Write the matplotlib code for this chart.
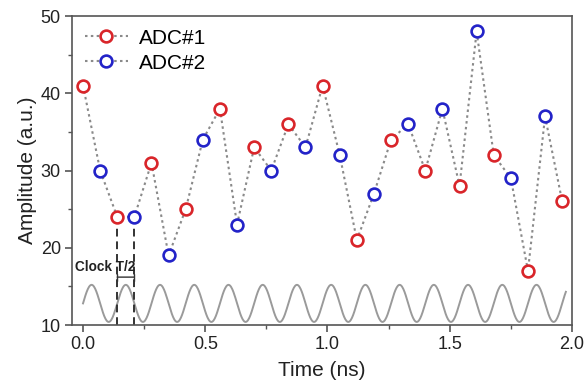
import numpy as np
import matplotlib
matplotlib.use("Agg")
import matplotlib.pyplot as plt
from matplotlib.lines import Line2D

plt.rcParams['font.family'] = ['Liberation Sans', 'DejaVu Sans']

# Data
time_ns = [0.00, 0.07, 0.14, 0.21, 0.28, 0.35, 0.42, 0.49, 0.56, 0.63,
           0.70, 0.77, 0.84, 0.91, 0.98, 1.05, 1.12, 1.19, 1.26, 1.33,
           1.40, 1.47, 1.54, 1.61, 1.68, 1.75, 1.82, 1.89, 1.96]
amplitude = [41, 30, 24, 24, 31, 19, 25, 34, 38, 23,
             33, 30, 36, 33, 41, 32, 21, 27, 34, 36,
             30, 38, 28, 48, 32, 29, 17, 37, 26]
series_labels = ["ADC#1", "ADC#2"]
clock_period = 0.14
clock_center = 12.8
clock_amp = 2.4
clock_end = 1.975
half_period_marks = [0.14, 0.21]
half_period_level = 24

red = '#d9252a'
blue = '#2323c8'

fig = plt.figure(figsize=(5.87, 3.84), dpi=100)
ax = fig.add_axes([0.1227, 0.1536, 0.8517, 0.8047])

t = np.array(time_ns)
a = np.array(amplitude)

# clock sine
tc = np.linspace(0, clock_end, 800)
ax.plot(tc, clock_center + clock_amp * np.sin(2 * np.pi * tc / clock_period),
        color='#9a9a9a', lw=1.4, zorder=1)

dot = (0, (1.2, 1.6))
ms = 8.5
# dotted connecting line
ax.plot(t, a, ls=dot, color='#8a8a8a', lw=1.5, zorder=2)
# markers
ax.plot(t[0::2], a[0::2], 'o', ls='none', ms=ms, mfc='white', mec=red, mew=1.9, zorder=3)
ax.plot(t[1::2], a[1::2], 'o', ls='none', ms=ms, mfc='white', mec=blue, mew=1.9, zorder=3)

# dashed vertical lines
for xm in half_period_marks:
    ax.plot([xm, xm], [10, half_period_level - 1.0], ls=(0, (4, 2.5)), color='#333333', lw=1.4, zorder=2)

ax.annotate('', xy=(half_period_marks[0], 16.2), xytext=(half_period_marks[1], 16.2),
            arrowprops=dict(arrowstyle='|-|', color='#333333', lw=1.0,
                            mutation_scale=2.5, shrinkA=0, shrinkB=0))
ax.text(-0.034, 17.5, 'Clock T/2', fontsize=9.8, fontweight='bold', ha='left', va='center',
        color='#222222')

ax.set_xlim(-0.045, 2.0)
ax.set_ylim(10, 50)
ax.set_xticks([0, 0.5, 1.0, 1.5, 2.0])
ax.set_xticklabels(['0.0', '0.5', '1.0', '1.5', '2.0'])
ax.set_xticks([0.25, 0.75, 1.25, 1.75], minor=True)
ax.set_yticks([10, 20, 30, 40, 50])
ax.set_yticks([15, 25, 35, 45], minor=True)

frame = '#555555'
for s in ax.spines.values():
    s.set_color(frame)
    s.set_linewidth(1.2)
ax.tick_params(which='major', direction='out', length=5, width=1.2, color=frame,
               labelsize=13, labelcolor='#222222', pad=3)
ax.tick_params(which='minor', direction='out', length=3, width=1.0, color=frame)
ax.tick_params(top=False, right=False, which='both')

ax.set_xlabel('Time (ns)', fontsize=15, color='#222222', labelpad=6)
ax.set_ylabel('Amplitude (a.u.)', fontsize=15, color='#222222', labelpad=3)

handles = [Line2D([], [], ls=dot, color='#8a8a8a', lw=1.5, marker='o', ms=ms,
                  mfc='white', mec=red, mew=1.9),
           Line2D([], [], ls=dot, color='#8a8a8a', lw=1.5, marker='o', ms=ms,
                  mfc='white', mec=blue, mew=1.9)]
ax.legend(handles, series_labels, loc='upper left', frameon=False, fontsize=15,
          handlelength=2.1, handletextpad=0.5, labelspacing=0.3,
          borderaxespad=0.0, borderpad=0.6, bbox_to_anchor=(0.0, 1.0))

fig.savefig('out.png', dpi=100)
